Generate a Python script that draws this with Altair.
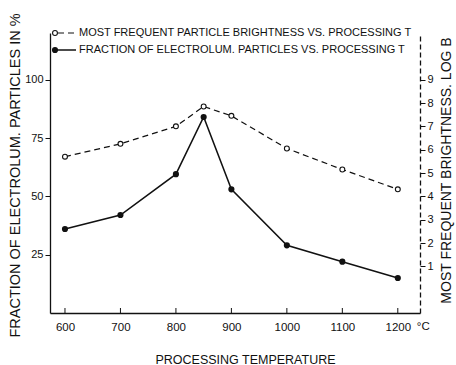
import altair as alt
import pandas as pd

# ---- data ----
temps = [600, 700, 800, 850, 900, 1000, 1100, 1200]
brightness_logB = [5.7, 6.25, 7.0, 7.85, 7.45, 6.05, 5.15, 4.3]
fraction_pct = [36, 42, 59.5, 84, 53, 29, 22, 15]
x_tick_values = [600, 700, 800, 900, 1000, 1100, 1200]
left_tick_values = [25, 50, 75, 100]
right_tick_values = [1, 2, 3, 4, 5, 6, 7, 8, 9]
legend_labels = [
    "MOST FREQUENT PARTICLE BRIGHTNESS VS. PROCESSING T",
    "FRACTION OF ELECTROLUM. PARTICLES VS. PROCESSING T",
]
x_unit = "°C"

W, H = 370, 280
FONT = "Liberation Sans"
INK = "#111111"

df = pd.DataFrame({"T": temps, "B": brightness_logB, "F": fraction_pct})
ticks_df = pd.DataFrame({"T": x_tick_values})

xscale = alt.Scale(domain=[573, 1240], nice=False, zero=False)
x_axis = alt.Axis(
    values=x_tick_values,
    ticks=False,
    format="d",
    domainColor=INK,
    domainWidth=1.3,
    labelFont=FONT,
    labelFontSize=11.5,
    labelColor=INK,
    labelPadding=8,
    title="PROCESSING TEMPERATURE",
    titleFont=FONT,
    titleFontSize=12.5,
    titleFontWeight="normal",
    titleColor=INK,
    titleX=195,
    titleY=46,
    titleBaseline="middle",
    titleAlign="center",
)
x_enc = alt.X("T:Q", scale=xscale, axis=x_axis)

left_y = alt.Y(
    "F:Q",
    scale=alt.Scale(domain=[0, 120], nice=False),
    axis=alt.Axis(
        orient="left",
        values=left_tick_values,
        tickSize=5,
        tickColor=INK,
        domainColor=INK,
        domainWidth=1.3,
        labelFont=FONT,
        labelFontSize=11,
        labelColor=INK,
        labelPadding=2,
        title="FRACTION OF ELECTROLUM. PARTICLES IN %",
        titleFont=FONT,
        titleFontSize=14.5,
        titleFontWeight="normal",
        titleColor=INK,
        titleAngle=270,
        titleX=-35,
        titleY=142,
        titleAlign="center",
        titleBaseline="middle",
    ),
)

right_y = alt.Y(
    "B:Q",
    scale=alt.Scale(domain=[-1, 11], nice=False, zero=False),
    axis=alt.Axis(
        orient="right",
        values=right_tick_values,
        tickSize=5,
        tickColor=INK,
        domainColor=INK,
        domainWidth=1.3,
        domainDash=[5, 3],
        labelFont=FONT,
        labelFontSize=11,
        labelColor=INK,
        labelPadding=2,
        title="MOST FREQUENT BRIGHTNESS. LOG B",
        titleFont=FONT,
        titleFontSize=14,
        titleFontWeight="normal",
        titleColor=INK,
        titleAngle=270,
        titleX=26,
        titleY=137,
        titleAlign="center",
        titleBaseline="middle",
    ),
)

base = alt.Chart(df)

left_layer = alt.layer(
    base.mark_line(color=INK, strokeWidth=1.5).encode(x=x_enc, y=left_y),
    base.mark_point(shape="circle", filled=True, size=38, color=INK, opacity=1).encode(x=x_enc, y=left_y),
)

right_layer = alt.layer(
    base.mark_line(color=INK, strokeWidth=1.2, strokeDash=[6, 4]).encode(x=x_enc, y=right_y),
    base.mark_point(shape="circle", filled=False, size=24, color=INK, strokeWidth=1.1, fill="white", opacity=1).encode(x=x_enc, y=right_y),
)

# inward x ticks
x_ticks = alt.Chart(ticks_df).mark_rule(color=INK, strokeWidth=1).encode(
    x=x_enc,
    y=alt.value(H - 5),
    y2=alt.value(H),
)

unit = alt.Chart(pd.DataFrame({"T": [x_tick_values[-1]], "u": [x_unit]})).mark_text(
    align="left", baseline="middle", dx=19, font=FONT, fontSize=11.5, color=INK
).encode(x=x_enc, y=alt.value(H + 14), text="u:N")

# legend
one = pd.DataFrame({"k": [0]})
leg1_line = alt.Chart(one).mark_rule(color=INK, strokeWidth=1.2, strokeDash=[6, 4]).encode(
    x=alt.value(8), x2=alt.value(26), y=alt.value(0))
leg1_pt = alt.Chart(one).mark_point(shape="circle", filled=False, size=24, color=INK, strokeWidth=1.1, fill="white", opacity=1).encode(
    x=alt.value(5), y=alt.value(0))
leg1_txt = alt.Chart(pd.DataFrame({"t": [legend_labels[0]]})).mark_text(
    align="left", baseline="middle", font=FONT, fontSize=11, color=INK).encode(
    x=alt.value(29), y=alt.value(0), text="t:N")
leg2_line = alt.Chart(one).mark_rule(color=INK, strokeWidth=1.5).encode(
    x=alt.value(8), x2=alt.value(26), y=alt.value(17))
leg2_pt = alt.Chart(one).mark_point(shape="circle", filled=True, size=38, color=INK, opacity=1).encode(
    x=alt.value(5), y=alt.value(17))
leg2_txt = alt.Chart(pd.DataFrame({"t": [legend_labels[1]]})).mark_text(
    align="left", baseline="middle", font=FONT, fontSize=11, color=INK).encode(
    x=alt.value(29), y=alt.value(17), text="t:N")

chart = alt.layer(
    left_layer, right_layer, x_ticks, unit,
    leg1_line, leg1_pt, leg1_txt, leg2_line, leg2_pt, leg2_txt,
).resolve_scale(y="independent").properties(
    width=W,
    height=H,
    padding={"left": 50, "top": 33, "right": 36, "bottom": 52},
    autosize=alt.AutoSizeParams(type="none"),
    background="white",
).configure_view(stroke=None).configure_axis(grid=False)

chart.save("out.html", embed_options={"renderer": "svg", "actions": False})
